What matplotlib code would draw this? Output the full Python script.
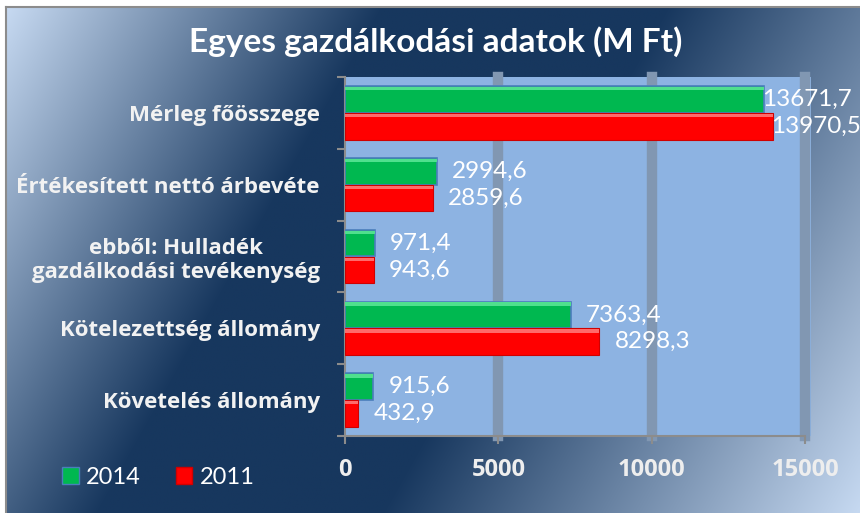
import numpy as np
import matplotlib
matplotlib.use('Agg')
import matplotlib.pyplot as plt
from matplotlib.patches import Rectangle, Patch
from matplotlib.colors import to_rgb

categories = ["Mérleg főösszege",
              "Értékesített nettó árbevéte",
              "ebből: Hulladék\ngazdálkodási tevékenység",
              "Kötelezettség állomány",
              "Követelés állomány"]
values_2014 = [13671.7, 2994.6, 971.4, 7363.4, 915.6]
values_2011 = [13970.5, 2859.6, 943.6, 8298.3, 432.9]
series_names = ["2014", "2011"]
x_ticks = [0, 5000, 10000, 15000]
title = "Egyes gazdálkodási adatok (M Ft)"

plt.rcParams['font.family'] = ['Lato', 'DejaVu Sans']
BOLD_FAMILY = ['Open Sans', 'DejaVu Sans']

W, H = 860, 513
fig = plt.figure(figsize=(W / 100, H / 100), dpi=100)

# ---- background gradient ----
bg = fig.add_axes([0, 0, 1, 1], zorder=-10)
bg.set_xlim(0, W)
bg.set_ylim(H, 0)
bg.axis('off')
fx0, fy0 = 7, 8
xs = np.linspace(0, 1, 430)
ys = np.linspace(0, 1, 256)
X, Y = np.meshgrid(xs, ys)
T = 0.75 * X + 0.25 * Y
light = np.array(to_rgb('#c6d9f1'))
dark = np.array(to_rgb('#17375e'))
stops = [0, 0.33, 0.58, 1]
cols = [light, dark, dark, light]
img = np.zeros(T.shape + (3,))
for c in range(3):
    img[..., c] = np.interp(T, stops, [col[c] for col in cols])
bg.imshow(img, extent=(fx0, W, H, fy0), aspect='auto', interpolation='bilinear')
bg.plot([6, 6], [7, H], color='#8c8c8c', lw=1.5)
bg.plot([6, W], [7, 7], color='#8c8c8c', lw=1.5)

# ---- main axes ----
ax = fig.add_axes([345 / W, 1 - 436 / H, (805 - 345) / W, (436 - 77) / H])
ax.patch.set_visible(False)
ax.add_patch(Rectangle((0, 0), 1 + 6 / 460, 1, transform=ax.transAxes,
                       facecolor='#8db3e2', edgecolor='none', zorder=0, clip_on=False))

grid_color = '#8197b2'
for xv in x_ticks[1:]:
    ax.axvline(xv, color=grid_color, lw=7.5, zorder=1, clip_on=False)

y = np.arange(len(categories))
bh = 0.37
off = 0.187
ax.barh(y - off, values_2014, height=bh, color='#00b850', edgecolor='#4a7ebb', lw=1.2, zorder=3)
ax.barh(y + off, values_2011, height=bh, color='#ff0000', edgecolor='#d00000', lw=0.8, zorder=3)
# bevel highlights
ax.barh(y - off - bh / 2 + 0.035, values_2014, height=0.045, color='#4fe08d', lw=0, zorder=4)
ax.barh(y + off - bh / 2 + 0.035, values_2011, height=0.045, color='#ff6a6a', lw=0, zorder=4)

ax.set_xlim(0, 15000)
ax.set_ylim(len(categories) - 0.5, -0.5)

def fmt(v):
    return f"{v:.1f}".replace('.', ',')

for vals, sign in ((values_2014, -1), (values_2011, 1)):
    for i, v in enumerate(vals):
        pad = -1.5 if v > 12000 else 11
        ax.annotate(fmt(v), xy=(v, i + sign * off), xytext=(pad, 0),
                    textcoords='offset points', ha='left', va='center',
                    color='white', fontsize=17.5, zorder=6)

ax.set_xticks(x_ticks)
ax.set_xticklabels([str(t) for t in x_ticks], fontweight='bold', color='#eeeeee',
                   fontsize=17, family=BOLD_FAMILY)
ax.set_yticks(y)
ax.set_yticklabels(categories, fontweight='bold', color='#f2f2f2', fontsize=16,
                   family=BOLD_FAMILY)
for lbl in ax.get_yticklabels():
    lbl.set_multialignment('center')
    lbl.set_linespacing(1.2)
ax.set_yticks(np.arange(-0.5, len(categories), 1), minor=True)
ax.tick_params(axis='y', which='major', length=0, pad=18)
ax.tick_params(axis='y', which='minor', length=6, width=1.5, color='#8c8c8c', direction='out')
ax.tick_params(axis='x', which='major', length=6, width=1.5, color='#8c8c8c', direction='out', pad=10)

for s in ('top', 'right'):
    ax.spines[s].set_visible(False)
for s in ('left', 'bottom'):
    ax.spines[s].set_color('#8c8c8c')
    ax.spines[s].set_linewidth(1.5)

# ---- legend ----
handles = [Patch(facecolor='#00b850', edgecolor='#4a7ebb'),
           Patch(facecolor='#ff0000', edgecolor='#d00000')]
fig.legend(handles=handles, labels=series_names, loc='center left',
           bbox_to_anchor=(62 / W, 1 - 477 / H), ncol=2, frameon=False,
           fontsize=17, labelcolor='white', handlelength=0.7, handleheight=0.7,
           handletextpad=0.3, columnspacing=1.5, borderpad=0, borderaxespad=0)

# ---- title ----
fig.text(436 / W, 1 - 42 / H, title, ha='center', va='center',
         fontsize=24, fontweight='bold', color='white')

fig.savefig('out.png', dpi=100)
